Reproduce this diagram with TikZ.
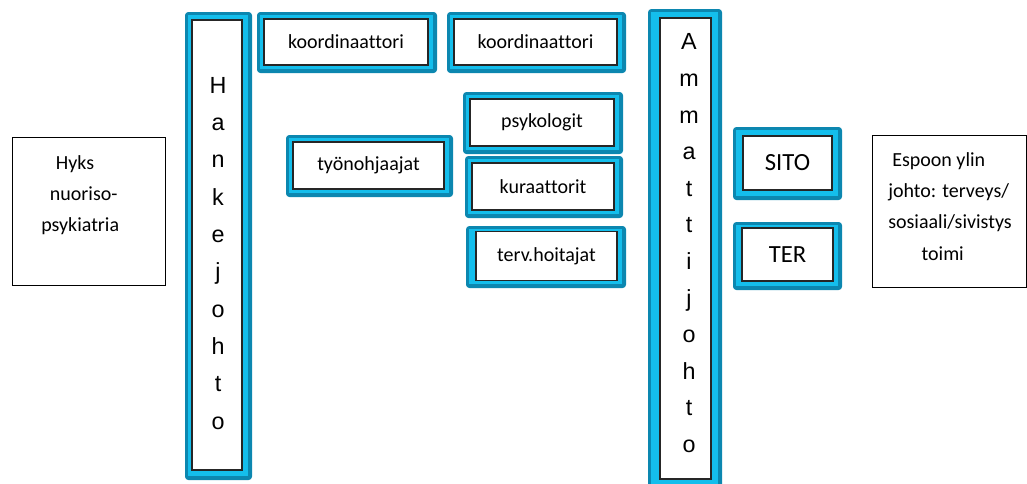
\documentclass[tikz,border=0pt]{standalone}
\usepackage{fontspec}
\setmainfont{Carlito}[Ligatures=NoCommon]
\newfontfamily\arialf{Liberation Sans}
\definecolor{tdark}{RGB}{12,135,176}
\definecolor{tcyan}{RGB}{20,190,236}
\newcommand\bframe[4]{%
  \fill[tdark,rounded corners=2.5] (#1,#2) rectangle (#3,#4);
  \fill[tcyan] ({#1+2.5},{#2+2.5}) rectangle ({#3-4},{#4-4});}
\tikzset{
  wbox/.style={draw=black!85, line width=0.8pt, fill=white, inner sep=0pt,
    font=\fontsize{15}{18}\selectfont},
  bigtxt/.style={font=\fontsize{18.5}{22}\selectfont},
  plainbox/.style={draw=black, line width=0.75pt, fill=white, inner sep=0pt},
  wsize/.style 2 args={minimum width=#1*0.75pt, minimum height=#2*0.75pt},
  coltxt/.style={align=center, inner sep=0pt, anchor=north,
    font=\arialf\fontsize{17.5}{28}\selectfont},
  sidetxt/.style={align=left, inner sep=0pt, anchor=north west}}
\begin{document}
\begin{tikzpicture}[x=0.75pt,y=-0.75pt]
\useasboundingbox (0,0) rectangle (1027,483);

% plain black boxes
\node[plainbox, wsize={153}{148}] (hyks) at (88.5,211) {};
\node[sidetxt, font=\fontsize{15}{23.5}\selectfont] (hykstxt) at (41,155)
  {\hspace*{11pt}Hyks\\\hspace*{6.5pt}nuoriso-\\psykiatria};
\node[plainbox, wsize={154.5}{152}] (espoo) at (949.25,211) {};
\node[sidetxt, font=\fontsize{15}{23.5}\selectfont] (espootxt) at (888,152)
  {\hspace*{3pt}Espoon ylin\\johto: terveys/\\sosiaali/sivistys\\\hspace*{25pt}toimi};

% blue framed boxes
\bframe{257}{12}{437}{73}
\node[wbox, wsize={164}{46}] (koord1) at (346,42) {koordinaattori};
\bframe{447}{12}{626}{73}
\node[wbox, wsize={163}{46}] (koord2) at (535.5,42) {koordinaattori\hspace{5pt}};

\bframe{185}{12}{252}{480}
\node[wbox, wsize={50}{450}] (hanke) at (217,245) {};
\node[coltxt] (hanketxt) at (218,77) {H\\a\\n\\k\\e\\j\\o\\h\\t\\o};

\bframe{648}{9}{722}{490}
\node[wbox, wsize={51}{461}] (ammatti) at (685.5,248.5) {};
\node[coltxt, font=\arialf\fontsize{17.5}{27.45}\selectfont] (ammattitxt) at (689,33.5)
  {A\\m\\m\\a\\t\\t\\i\\j\\o\\h\\t\\o};

\bframe{463}{92}{623}{154}
\node[wbox, wsize={144}{47}] (psyk) at (542,122.5) {psykologit\hspace{15pt}};
\bframe{286}{135}{453}{197}
\node[wbox, wsize={151}{47}] (tyon) at (368.5,165.5) {työnohjaajat\hspace{7.5pt}};
\bframe{465}{156}{623}{218}
\node[wbox, wsize={142}{47}] (kura) at (543,186.5) {kuraattorit\hspace{10.5pt}};
\bframe{466}{226}{626}{288}
\node[wbox, wsize={141}{49}] (terv) at (546.5,256) {terv.hoitajat};

\bframe{733}{127}{842}{200}
\node[wbox, bigtxt, wsize={89}{54}] (sito) at (787.5,163) {SITO};
\bframe{733}{222}{842}{290}
\node[wbox, bigtxt, wsize={91}{53}] (ter) at (787.5,254.5) {TER\hspace{3pt}};
\end{tikzpicture}
\end{document}
